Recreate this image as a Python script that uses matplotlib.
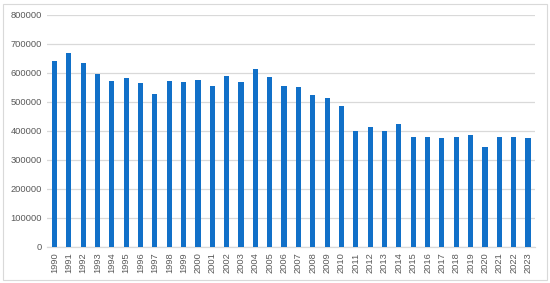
import numpy as np
import matplotlib
matplotlib.use("Agg")
import matplotlib.pyplot as plt
from matplotlib.patches import Rectangle

years = list(range(1990, 2024))
values = [642000, 668000, 632000, 595000, 572000, 581000, 565000, 526000,
          572000, 567000, 574000, 554000, 590000, 569000, 614000, 584000,
          554000, 552000, 524000, 512000, 486000, 400000, 414000, 400000,
          424000, 377000, 377000, 375000, 379000, 384000, 345000, 377000,
          379000, 375000]
yticks = list(range(0, 800001, 100000))

plt.rcParams["font.family"] = ["Liberation Sans", "DejaVu Sans"]

fig = plt.figure(figsize=(5.5, 2.83), dpi=100)
fig.patches.append(Rectangle((0.006, 0.012), 0.988, 0.975, transform=fig.transFigure,
                             fill=False, edgecolor="#d9d9d9", lw=0.8))
ax = fig.add_axes([0.086, 0.128, 0.887, 0.82])

x = np.arange(len(years))
ax.bar(x, values, width=0.36, color="#1170C8", zorder=3)
ax.set_xlim(-0.5, len(years) - 0.5)
ax.set_ylim(0, 800000)
ax.set_yticks(yticks)
ax.set_yticklabels([str(v) for v in yticks])
ax.set_xticks(x)
ax.set_xticklabels([str(y) for y in years], rotation=90)
ax.tick_params(axis="both", length=0, labelsize=6.7, colors="#595959", pad=4)
ax.grid(axis="y", color="#d9d9d9", lw=0.9, zorder=0)
for s in ["top", "right", "left"]:
    ax.spines[s].set_visible(False)
ax.spines["bottom"].set_color("#d9d9d9")
ax.spines["bottom"].set_linewidth(0.9)

fig.savefig("out.png", dpi=100)
